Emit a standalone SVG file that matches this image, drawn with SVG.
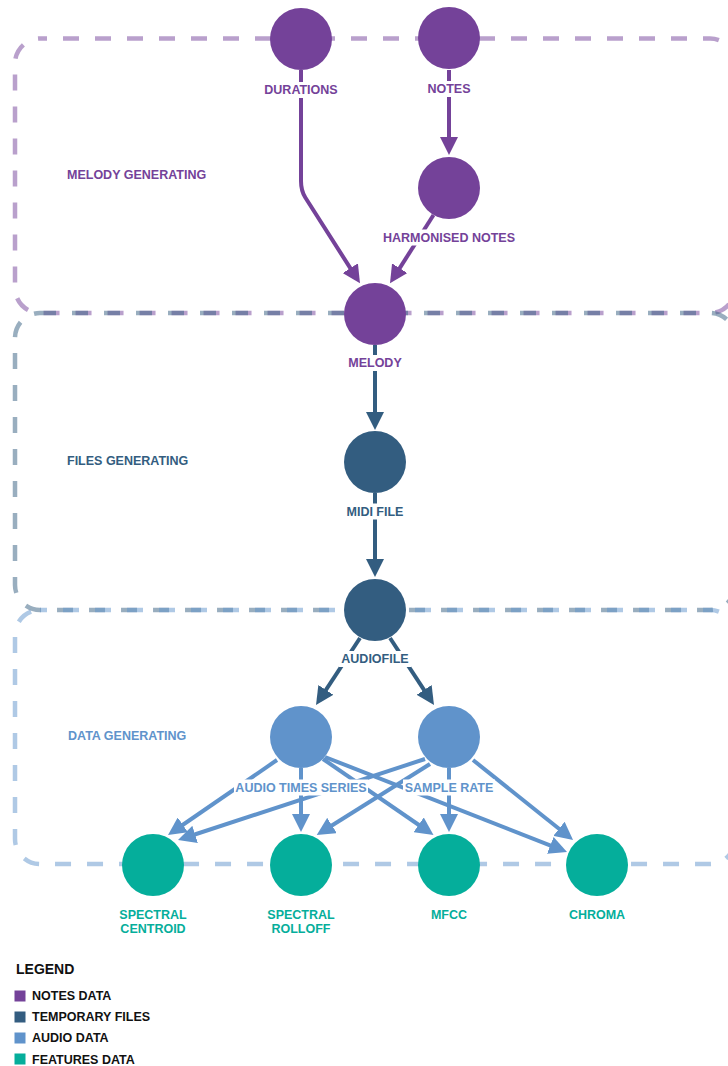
<svg xmlns="http://www.w3.org/2000/svg" width="728" height="1066" viewBox="0 0 728 1066">
<style>
text{font-family:"Liberation Sans",Arial,sans-serif;font-weight:bold;font-size:12.5px}
.lbl{text-anchor:middle}
.box{fill:none;stroke-width:4.5;stroke-dasharray:16 16;stroke-opacity:0.5}
.bg{fill:#fff}
.e{fill:none;stroke-width:4}
.pu{fill:#744299}.db{fill:#335d80}.lb{fill:#6093cb}.tl{fill:#05ae9b}
.epu{stroke:#744299}.edb{stroke:#335d80}.elb{stroke:#6093cb}
</style>
<defs>
<marker id="apu" markerUnits="userSpaceOnUse" markerWidth="18" markerHeight="18" refX="10" refY="9" orient="auto"><path d="M0,0 L18,9 L0,18 z" fill="#744299"/></marker>
<marker id="adb" markerUnits="userSpaceOnUse" markerWidth="18" markerHeight="18" refX="10" refY="9" orient="auto"><path d="M0,0 L18,9 L0,18 z" fill="#335d80"/></marker>
<marker id="alb" markerUnits="userSpaceOnUse" markerWidth="18" markerHeight="18" refX="10" refY="9" orient="auto"><path d="M0,0 L18,9 L0,18 z" fill="#6093cb"/></marker>
</defs>
<rect width="728" height="1066" fill="#fff"/>
<g id="group-melody">
<rect class="box" x="15" y="38.5" width="720" height="274.5" rx="25" stroke="#744299" stroke-dashoffset="9"/>
<text x="67" y="179" fill="#744299">MELODY GENERATING</text>
</g>
<g id="group-files">
<rect class="box" x="15" y="313" width="720" height="297" rx="25" stroke="#335d80" stroke-dashoffset="0"/>
<text x="67" y="465" fill="#335d80">FILES GENERATING</text>
</g>
<g id="group-data">
<rect class="box" x="15" y="610" width="720" height="254" rx="25" stroke="#6093cb" stroke-dashoffset="9"/>
<text x="68" y="740" fill="#6093cb">DATA GENERATING</text>
</g>
<g id="connectors">
<path class="e epu" d="M449,70 L449,147" marker-end="url(#apu)"/>
<path class="e epu" d="M301,70 L301,181 Q301,190.7 305.3,197.5 L355.7,276.6" marker-end="url(#apu)"/>
<path class="e epu" d="M433.5,215 L394.3,276.6" marker-end="url(#apu)"/>
<path class="e edb" d="M375,345 L375,422" marker-end="url(#adb)"/>
<path class="e edb" d="M375,493 L375,569" marker-end="url(#adb)"/>
<path class="e edb" d="M360,638 L320.4,698.3" marker-end="url(#adb)"/>
<path class="e edb" d="M390,638 L429.6,698.3" marker-end="url(#adb)"/>
<path class="e elb" d="M277,760 L174.6,830.5" marker-end="url(#alb)"/>
<path class="e elb" d="M301,768 L301,824" marker-end="url(#alb)"/>
<path class="e elb" d="M323,759 L426.9,830.5" marker-end="url(#alb)"/>
<path class="e elb" d="M325,757 L559.6,849.1" marker-end="url(#alb)"/>
<path class="e elb" d="M425,759 L185.6,837.5" marker-end="url(#alb)"/>
<path class="e elb" d="M430,764 L323.5,830.75" marker-end="url(#alb)"/>
<path class="e elb" d="M449,768 L449,824" marker-end="url(#alb)"/>
<path class="e elb" d="M473,760 L566.8,835" marker-end="url(#alb)"/>
</g>
<g id="node-durations">
<circle class="pu" cx="301" cy="39" r="31"/>
<rect class="bg" x="262" y="82" width="78" height="16"/>
<text class="lbl" x="301" y="94" fill="#744299">DURATIONS</text>
</g>
<g id="node-notes">
<circle class="pu" cx="449" cy="38" r="31"/>
<rect class="bg" x="425" y="81" width="48" height="16"/>
<text class="lbl" x="449" y="93" fill="#744299">NOTES</text>
</g>
<g id="node-harmonised-notes">
<circle class="pu" cx="449" cy="188" r="31"/>
<rect class="bg" x="381" y="229.5" width="136" height="16"/>
<text class="lbl" x="449" y="241.5" fill="#744299">HARMONISED NOTES</text>
</g>
<g id="node-melody">
<circle class="pu" cx="375" cy="314" r="31"/>
<rect class="bg" x="346" y="355" width="58" height="16"/>
<text class="lbl" x="375" y="367" fill="#744299">MELODY</text>
</g>
<g id="node-midi-file">
<circle class="db" cx="375" cy="462" r="31"/>
<rect class="bg" x="344" y="503.5" width="62" height="16"/>
<text class="lbl" x="375" y="515.5" fill="#335d80">MIDI FILE</text>
</g>
<g id="node-audiofile">
<circle class="db" cx="375" cy="610" r="31"/>
<rect class="bg" x="339" y="651" width="72" height="16"/>
<text class="lbl" x="375" y="663" fill="#335d80">AUDIOFILE</text>
</g>
<g id="node-audio-times-series">
<circle class="lb" cx="301" cy="737" r="31"/>
<rect class="bg" x="234" y="779.5" width="134" height="16"/>
<text class="lbl" x="301" y="791.5" fill="#6093cb">AUDIO TIMES SERIES</text>
</g>
<g id="node-sample-rate">
<circle class="lb" cx="449" cy="737" r="31"/>
<rect class="bg" x="403" y="779.5" width="92" height="16"/>
<text class="lbl" x="449" y="791.5" fill="#6093cb">SAMPLE RATE</text>
</g>
<g id="node-spectral-centroid">
<circle class="tl" cx="153" cy="865" r="31"/>
<text class="lbl" x="153" y="918.5" fill="#05ae9b">SPECTRAL</text>
<text class="lbl" x="153" y="933" fill="#05ae9b">CENTROID</text>
</g>
<g id="node-spectral-rolloff">
<circle class="tl" cx="301" cy="865" r="31"/>
<text class="lbl" x="301" y="918.5" fill="#05ae9b">SPECTRAL</text>
<text class="lbl" x="301" y="933" fill="#05ae9b">ROLLOFF</text>
</g>
<g id="node-mfcc">
<circle class="tl" cx="449" cy="865" r="31"/>
<text class="lbl" x="449" y="918.5" fill="#05ae9b">MFCC</text>
</g>
<g id="node-chroma">
<circle class="tl" cx="597" cy="865" r="31"/>
<text class="lbl" x="597" y="918.5" fill="#05ae9b">CHROMA</text>
</g>
<g id="legend">
<text x="16" y="974" fill="#111" style="font-size:14px">LEGEND</text>
<rect class="pu" x="14.5" y="990.5" width="11" height="11"/>
<text x="32" y="1000" fill="#111">NOTES DATA</text>
<rect class="db" x="14.5" y="1011.5" width="11" height="11"/>
<text x="32" y="1021" fill="#111">TEMPORARY FILES</text>
<rect class="lb" x="14.5" y="1032.5" width="11" height="11"/>
<text x="32" y="1042.3" fill="#111">AUDIO DATA</text>
<rect class="tl" x="14.5" y="1053.5" width="11" height="11"/>
<text x="32" y="1063.5" fill="#111">FEATURES DATA</text>
</g>
</svg>
